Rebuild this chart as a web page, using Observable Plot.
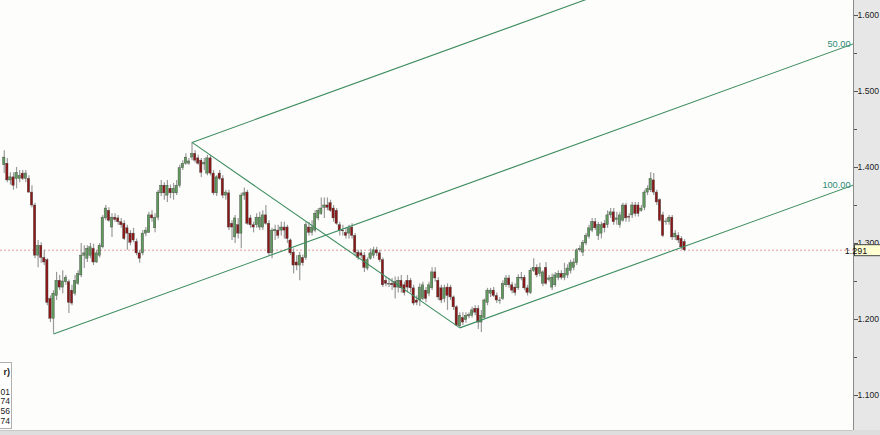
<!DOCTYPE html>
<html><head><meta charset="utf-8">
<script src="https://cdn.jsdelivr.net/npm/d3@7"></script>
<script src="https://cdn.jsdelivr.net/npm/@observablehq/plot@0.6"></script>
<style>
html,body{margin:0;padding:0;background:#fff;overflow:hidden}
#chart svg{display:block}
</style></head><body><div id="chart"></div>
<script>
const open = [
1.403,1.405,1.383,1.387,1.385,1.385,1.392,1.385,1.385,1.367,
1.350,1.284,1.297,1.281,1.278,1.227,1.201,1.231,1.251,1.242,
1.249,1.249,1.238,1.234,1.247,1.258,1.284,1.280,1.284,1.293,
1.275,1.284,1.295,1.333,1.343,1.321,1.334,1.333,1.328,1.326,
1.320,1.313,1.313,1.302,1.287,1.287,1.313,1.314,1.337,1.320,
1.334,1.366,1.376,1.363,1.372,1.366,1.366,1.376,1.399,1.405,
1.405,1.413,1.418,1.412,1.409,1.404,1.392,1.412,1.392,1.366,
1.392,1.385,1.363,1.366,1.326,1.308,1.324,1.313,1.363,1.367,
1.333,1.324,1.324,1.321,1.321,1.337,1.326,1.287,1.316,1.317,
1.317,1.321,1.321,1.304,1.288,1.275,1.271,1.281,1.281,1.321,
1.314,1.317,1.333,1.339,1.347,1.350,1.353,1.346,1.343,1.324,
1.317,1.314,1.313,1.321,1.310,1.288,1.287,1.284,1.267,1.280,
1.284,1.291,1.287,1.278,1.251,1.246,1.247,1.249,1.242,1.251,
1.245,1.251,1.251,1.241,1.225,1.225,1.227,1.238,1.234,1.241,
1.262,1.251,1.241,1.227,1.242,1.242,1.229,1.216,1.191,1.202,
1.199,1.204,1.205,1.214,1.214,1.196,1.202,1.222,1.234,1.238,
1.231,1.224,1.227,1.245,1.254,1.245,1.242,1.241,1.254,1.255,
1.241,1.235,1.264,1.268,1.260,1.247,1.268,1.252,1.242,1.245,
1.255,1.260,1.255,1.258,1.264,1.268,1.274,1.291,1.288,1.300,
1.309,1.317,1.328,1.310,1.313,1.326,1.324,1.337,1.341,1.331,
1.324,1.330,1.350,1.335,1.337,1.350,1.350,1.343,1.347,
1.367,1.370,1.383,1.367,1.357,1.337,1.328,1.328,1.334,
1.308,1.310,1.306,1.302];
const high = [
1.422,1.412,1.393,1.393,1.400,1.396,1.396,1.396,1.389,1.376,
1.353,1.304,1.301,1.291,1.280,1.231,1.238,1.262,1.258,1.264,
1.258,1.252,1.245,1.258,1.264,1.300,1.297,1.297,1.300,1.299,
1.291,1.300,1.337,1.350,1.347,1.339,1.339,1.337,1.333,1.330,
1.324,1.317,1.320,1.306,1.291,1.317,1.321,1.341,1.343,1.339,
1.370,1.383,1.380,1.383,1.377,1.379,1.383,1.403,1.409,1.418,
1.412,1.433,1.422,1.416,1.412,1.412,1.416,1.416,1.396,1.389,
1.396,1.389,1.370,1.370,1.330,1.337,1.333,1.366,1.373,1.370,
1.337,1.328,1.339,1.341,1.343,1.350,1.330,1.320,1.324,1.324,
1.328,1.328,1.324,1.306,1.293,1.284,1.288,1.285,1.328,1.328,
1.330,1.343,1.346,1.360,1.360,1.360,1.357,1.350,1.346,1.328,
1.324,1.320,1.324,1.326,1.313,1.291,1.291,1.288,1.281,1.293,
1.295,1.295,1.291,1.281,1.256,1.254,1.254,1.256,1.256,1.258,
1.249,1.258,1.254,1.245,1.231,1.247,1.249,1.242,1.249,1.268,
1.268,1.255,1.245,1.245,1.247,1.245,1.231,1.218,1.209,1.209,
1.209,1.209,1.216,1.218,1.218,1.212,1.227,1.241,1.241,1.242,
1.235,1.229,1.251,1.258,1.258,1.249,1.247,1.259,1.262,1.258,
1.245,1.267,1.280,1.272,1.274,1.264,1.275,1.258,1.260,1.262,
1.264,1.264,1.274,1.272,1.278,1.280,1.293,1.297,1.304,1.313,
1.324,1.333,1.333,1.328,1.328,1.330,1.343,1.346,1.346,1.341,
1.341,1.353,1.353,1.339,1.354,1.354,1.354,1.350,1.370,
1.376,1.393,1.392,1.370,1.359,1.341,1.333,1.337,1.337,
1.317,1.314,1.309,1.305];
const low = [
1.392,1.380,1.377,1.370,1.372,1.380,1.383,1.380,1.366,1.347,
1.280,1.268,1.274,1.271,1.218,1.196,1.181,1.225,1.238,1.234,
1.245,1.208,1.218,1.231,1.245,1.255,1.267,1.275,1.280,1.271,
1.274,1.281,1.293,1.330,1.328,1.308,1.328,1.324,1.320,1.304,
1.291,1.297,1.301,1.284,1.274,1.284,1.309,1.313,1.328,1.314,
1.330,1.362,1.357,1.354,1.359,1.357,1.363,1.373,1.396,1.403,
1.403,1.409,1.406,1.403,1.387,1.396,1.389,1.389,1.363,1.362,
1.383,1.359,1.357,1.317,1.304,1.300,1.306,1.293,1.357,1.324,
1.320,1.314,1.320,1.317,1.317,1.324,1.284,1.280,1.304,1.306,
1.310,1.306,1.300,1.284,1.260,1.264,1.251,1.270,1.278,1.310,
1.310,1.314,1.330,1.337,1.333,1.343,1.341,1.328,1.324,1.310,
1.310,1.306,1.306,1.306,1.284,1.278,1.280,1.262,1.264,1.278,
1.280,1.283,1.275,1.242,1.243,1.242,1.238,1.227,1.235,1.235,
1.231,1.235,1.235,1.218,1.218,1.217,1.225,1.222,1.230,1.238,
1.249,1.225,1.221,1.222,1.212,1.225,1.212,1.191,1.189,1.192,
1.195,1.201,1.202,1.205,1.187,1.183,1.201,1.218,1.229,1.229,
1.221,1.220,1.225,1.242,1.241,1.234,1.231,1.238,1.251,1.238,
1.231,1.233,1.262,1.255,1.256,1.243,1.245,1.249,1.238,1.242,
1.251,1.252,1.251,1.254,1.260,1.264,1.271,1.288,1.283,1.297,
1.306,1.314,1.317,1.304,1.306,1.314,1.320,1.333,1.324,1.324,
1.320,1.328,1.328,1.328,1.333,1.335,1.335,1.341,1.343,
1.363,1.367,1.363,1.350,1.328,1.308,1.324,1.324,1.304,
1.304,1.300,1.292,1.289];
const close = [
1.413,1.383,1.387,1.376,1.393,1.389,1.385,1.392,1.367,1.350,
1.284,1.297,1.281,1.275,1.222,1.201,1.234,1.251,1.242,1.250,
1.255,1.222,1.221,1.251,1.260,1.284,1.287,1.293,1.295,1.275,
1.287,1.297,1.334,1.346,1.330,1.334,1.331,1.328,1.324,1.306,
1.313,1.301,1.304,1.287,1.280,1.313,1.317,1.337,1.333,1.334,
1.367,1.376,1.366,1.376,1.366,1.372,1.376,1.399,1.405,1.413,
1.408,1.418,1.409,1.405,1.393,1.406,1.412,1.392,1.366,1.387,
1.385,1.363,1.367,1.321,1.321,1.333,1.313,1.363,1.366,1.326,
1.324,1.321,1.334,1.334,1.337,1.326,1.287,1.317,1.318,1.310,
1.321,1.317,1.306,1.287,1.271,1.271,1.284,1.274,1.324,1.314,
1.321,1.339,1.343,1.346,1.350,1.347,1.343,1.333,1.326,1.317,
1.316,1.310,1.320,1.310,1.288,1.281,1.284,1.268,1.278,1.287,
1.291,1.287,1.278,1.245,1.247,1.247,1.245,1.242,1.251,1.241,
1.235,1.242,1.241,1.221,1.222,1.242,1.245,1.227,1.245,1.262,
1.254,1.229,1.225,1.241,1.231,1.229,1.216,1.192,1.205,1.196,
1.205,1.206,1.212,1.209,1.196,1.205,1.225,1.238,1.238,1.231,
1.225,1.225,1.247,1.254,1.245,1.238,1.235,1.255,1.255,1.241,
1.235,1.264,1.268,1.258,1.268,1.262,1.247,1.254,1.255,1.258,
1.260,1.255,1.260,1.267,1.274,1.275,1.291,1.293,1.301,1.310,
1.320,1.328,1.320,1.324,1.324,1.320,1.337,1.341,1.328,1.333,
1.337,1.350,1.333,1.334,1.350,1.339,1.339,1.346,1.367,
1.372,1.385,1.367,1.354,1.330,1.310,1.329,1.334,1.308,
1.313,1.304,1.295,1.291];

// Pitchfork pivots: A (low), B (high), C (low)
const pivotIndex = [16, 61, 148];
const pivotPrice = [1.181, 1.433, 1.189];
const levelLabels = ["50.00", "100.00"];
const yTicks = [1.1, 1.2, 1.3, 1.4, 1.5, 1.6];
const yMinorTicks = [1.15, 1.25, 1.35, 1.45, 1.55];
const currentPrice = 1.2912;
const currentLabel = "1.291";
const legendTitle = "r)";
const legendValues = ["01", "74", "56", "74"];

const candles = open.map((o, i) => ({i, o, h: high[i], l: low[i], c: close[i], up: close[i] >= o}));
const xDomain = [-1.22, 275.9];
const yDomain = [1.05395, 1.61974];

const A = {i: pivotIndex[0], p: pivotPrice[0]};
const B = {i: pivotIndex[1], p: pivotPrice[1]};
const C = {i: pivotIndex[2], p: pivotPrice[2]};
const mid = {i: (B.i + C.i) / 2, p: (B.p + C.p) / 2};
const slope = (mid.p - A.p) / (mid.i - A.i);
const xEnd = xDomain[1];
const ext = (P) => ({x1: P.i, y1: P.p, x2: xEnd, y2: P.p + slope * (xEnd - P.i)});
const forkLines = [ext(A), ext(B), ext(C), {x1: B.i, y1: B.p, x2: C.i, y2: C.p}];
const forkLabels = [
  {x: xEnd, y: ext(A).y2, text: levelLabels[0]},
  {x: xEnd, y: ext(C).y2, text: levelLabels[1]}
];

const plot = Plot.plot({
  width: 880, height: 435,
  marginLeft: 0, marginRight: 27, marginTop: 0, marginBottom: 5,
  x: {domain: xDomain, axis: null},
  y: {domain: yDomain, axis: null},
  style: {background: "transparent", fontFamily: "'Liberation Sans', Arial, sans-serif", overflow: "hidden"},
  marks: [
    Plot.ruleY([currentPrice], {stroke: "#e49a9a", strokeDasharray: "2,2", strokeWidth: 1}),
    Plot.ruleX(candles, {x: "i", y1: "l", y2: "h", stroke: "#9b9b9b", strokeWidth: 1.2}),
    Plot.rect(candles, {
      x1: d => d.i - 0.38, x2: d => d.i + 0.38, y1: "o", y2: "c",
      fill: d => d.up ? "#5f9a5c" : "#8c1717", stroke: "#454545", strokeWidth: 0.4
    }),
    Plot.link(forkLines, {x1: "x1", y1: "y1", x2: "x2", y2: "y2", stroke: "#3e8d60", strokeWidth: 1.1, clip: true}),
    Plot.text(forkLabels, {x: "x", y: "y", text: "text", textAnchor: "end", dx: -3, fill: "#2f8a78", fontSize: 9.2}),
    Plot.ruleX([xDomain[1]], {stroke: "#8a8a8a"}),
    Plot.axisY({anchor: "right", ticks: yTicks, tickSize: 4, tickPadding: 0, tickFormat: d3.format(".3f"), fontSize: 8.6, color: "#222", stroke: "#555"}),
    Plot.axisY({anchor: "right", ticks: yMinorTicks, tickSize: 3, tickFormat: () => "", stroke: "#555"})
  ]
});

const svg = d3.select(plot);
const W = 880, H = 435, mR = 27, mB = 5;
const bg = svg.insert("g", ":first-child");
bg.append("rect").attr("x", 0).attr("y", 0).attr("width", W - mR).attr("height", H - mB).attr("fill", "#fdfdfb");
bg.append("rect").attr("x", W - mR).attr("y", 0).attr("width", mR).attr("height", H).attr("fill", "#e7e7e7");
bg.append("rect").attr("x", 0).attr("y", H - mB).attr("width", W).attr("height", mB).attr("fill", "#dedede");
bg.append("line").attr("x1", 0).attr("x2", W - mR).attr("y1", H - mB + 0.5).attr("y2", H - mB + 0.5).attr("stroke", "#c8c8c8");

const yS = plot.scale("y");
const cy = yS.apply(currentPrice);
const tag = svg.append("g");
tag.append("rect").attr("x", W - mR + 1.5).attr("y", cy - 5).attr("width", 30).attr("height", 11)
  .attr("fill", "#ffffd2").attr("stroke", "#444").attr("stroke-width", 1);
tag.append("text").attr("x", W - mR + 3).attr("y", cy + 4).attr("font-size", 9).attr("fill", "#111").text(currentLabel);

const lg = svg.append("g");
lg.append("rect").attr("x", -1).attr("y", 362.5).attr("width", 12.5).attr("height", 66).attr("fill", "#fff").attr("stroke", "#b0b0b0");
lg.append("text").attr("x", 10).attr("y", 375).attr("text-anchor", "end").attr("font-size", 9).attr("font-weight", "bold").attr("fill", "#222").text(legendTitle);
legendValues.forEach((t, k) => {
  lg.append("text").attr("x", 10).attr("y", 394.5 + k * 9.8).attr("text-anchor", "end").attr("font-size", 8.5).attr("fill", "#222").text(t);
});

document.getElementById("chart").appendChild(plot);
</script></body></html>
